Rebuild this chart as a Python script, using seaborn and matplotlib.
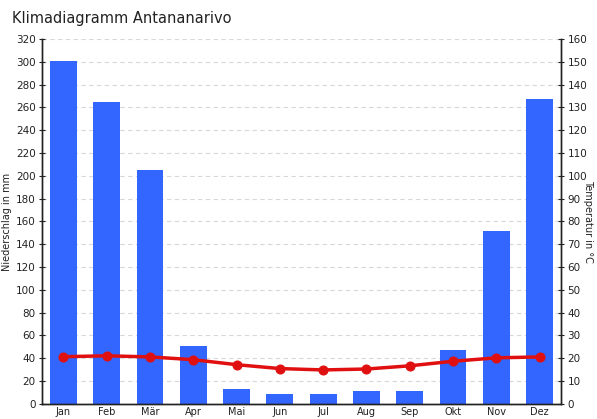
import matplotlib
matplotlib.use("Agg")
import matplotlib.pyplot as plt
import seaborn as sns
import pandas as pd

months = ["Jan", "Feb", "Mär", "Apr", "Mai", "Jun", "Jul", "Aug", "Sep", "Okt", "Nov", "Dez"]
niederschlag = [301, 265, 205, 51, 13, 9, 9, 11, 11, 47, 152, 267]
temperatur = [20.7, 21.1, 20.6, 19.4, 17.2, 15.5, 14.9, 15.3, 16.7, 18.7, 20.2, 20.6]

df = pd.DataFrame({"Monat": months, "Niederschlag": niederschlag, "Temperatur": temperatur})

sns.set_style("white")
plt.rcParams["font.family"] = ["DejaVu Sans"]

fig = plt.figure(figsize=(5.97, 4.19), dpi=100)
ax = fig.add_axes([0.070, 0.036, 0.870, 0.871])

grid_kw = dict(color="#d8d8d8", linestyle=(0, (4, 3)), linewidth=0.8)
ax.set_axisbelow(True)
ax.yaxis.grid(True, **grid_kw)
ax.xaxis.grid(True, **grid_kw)

sns.barplot(data=df, x="Monat", y="Niederschlag", color="#3366ff", saturation=1,
            width=0.62, linewidth=0, ax=ax, zorder=2)
ax.set_xlim(-0.5, 11.5)
ax.set_ylim(0, 320)
ax.set_yticks(range(0, 321, 20))
ax.set_ylabel("Niederschlag in mm", fontsize=7, color="#222222", labelpad=3)
ax.set_xlabel("")
ax.tick_params(axis="y", labelsize=7.5, colors="#222222", direction="inout", length=5, width=0.8, pad=2)
ax.tick_params(axis="x", labelsize=7, colors="#222222", direction="inout", length=4, width=0.8, pad=0.5)

ax2 = ax.twinx()
sns.lineplot(x=range(len(months)), y=temperatur, color="#e01010", linewidth=2.5,
             marker="o", markersize=6.5, markeredgecolor="#e01010", ax=ax2, zorder=3)
ax2.set_ylim(0, 160)
ax2.set_yticks(range(0, 161, 10))
ax2.set_ylabel("Temperatur in °C", fontsize=7, color="#222222", rotation=-90, labelpad=4)
ax2.tick_params(axis="y", labelsize=7.5, colors="#222222", direction="inout", length=5, width=0.8, pad=2)

for a in (ax, ax2):
    a.spines["top"].set_visible(False)
    for s in ("left", "right", "bottom"):
        a.spines[s].set_color("#222222")
        a.spines[s].set_linewidth(1.0)

fig.text(0.020, 0.955, "Klimadiagramm Antananarivo", fontsize=10.5, color="#222222", va="center")

fig.savefig("out.png", dpi=100)
